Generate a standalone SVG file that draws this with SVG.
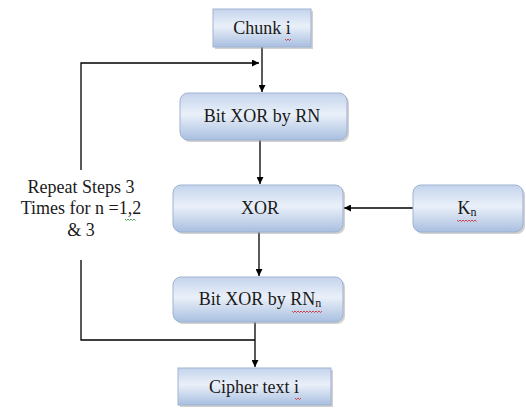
<svg xmlns="http://www.w3.org/2000/svg" width="526" height="408" viewBox="0 0 526 408">
<style>
  text{font-family:"Liberation Serif","Times New Roman",serif;fill:#1a1a1a;}
  .lbl{font-size:18px;text-anchor:middle;}
  .side{font-size:18px;text-anchor:middle;}
  .box{fill:url(#g);stroke:#9fb3d1;stroke-width:1;}
  .shadow{fill:#9a9a9a;opacity:0.45;}
  .ln{fill:none;stroke:#000;stroke-width:1.3;}
  .wr{fill:none;stroke:#d02020;stroke-width:0.8;}
  .wg{fill:none;stroke:#2a8a2a;stroke-width:0.8;}
</style>
<defs>
  <linearGradient id="g" x1="0" y1="0" x2="0" y2="1">
    <stop offset="0" stop-color="#c4d4ec"/>
    <stop offset="0.45" stop-color="#eaf0f9"/>
    <stop offset="1" stop-color="#a8bfe0"/>
  </linearGradient>
  <marker id="ah" viewBox="0 0 10 10" refX="10" refY="5" markerWidth="7" markerHeight="7" orient="auto" markerUnits="userSpaceOnUse">
    <path d="M0,0 L10,5 L0,10 z" fill="#000"/>
  </marker>
</defs>
<rect width="526" height="408" fill="#fff"/>

<g id="connectors">
  <line class="ln" x1="262" y1="47" x2="262" y2="92" marker-end="url(#ah)"/>
  <polyline class="ln" points="81,170 81,63 259,63" marker-end="url(#ah)"/>
  <line class="ln" x1="260" y1="140" x2="260" y2="184" marker-end="url(#ah)"/>
  <line class="ln" x1="413" y1="208" x2="344" y2="208" marker-end="url(#ah)"/>
  <line class="ln" x1="259" y1="232" x2="259" y2="276" marker-end="url(#ah)"/>
  <line class="ln" x1="255" y1="322" x2="255" y2="367" marker-end="url(#ah)"/>
  <polyline class="ln" points="81,260 81,340 255,340"/>
</g>

<g id="chunk">
  <rect class="shadow" x="215" y="11" width="98" height="38"/>
  <rect class="box" x="213" y="9" width="98" height="38"/>
  <text class="lbl" x="262" y="34">Chunk i</text>
  <path class="wr" d="M285,39 l1.5,1.5 l1.5,-1.5 l1.5,1.5 l1.5,-1.5"/>
</g>

<g id="bitxor-rn">
  <rect class="shadow" x="182" y="95" width="167" height="47" rx="8"/>
  <rect class="box" x="180" y="93" width="167" height="47" rx="8"/>
  <text class="lbl" x="262" y="122">Bit XOR by RN</text>
</g>

<g id="xor">
  <rect class="shadow" x="175" y="187" width="170" height="47" rx="8"/>
  <rect class="box" x="173" y="185" width="170" height="47" rx="8"/>
  <text class="lbl" x="260" y="214">XOR</text>
</g>

<g id="kn">
  <rect class="shadow" x="415" y="187" width="110" height="47" rx="8"/>
  <rect class="box" x="413" y="185" width="110" height="47" rx="8"/>
  <text class="lbl" x="467" y="214">K<tspan font-size="12" dy="2">n</tspan></text>
  <path class="wr" d="M457,220 l1.5,1.5 l1.5,-1.5 l1.5,1.5 l1.5,-1.5 l1.5,1.5 l1.5,-1.5 l1.5,1.5 l1.5,-1.5 l1.5,1.5 l1.5,-1.5 l1.5,1.5 l1.5,-1.5 l1.5,1.5"/>
</g>

<g id="bitxor-rnn">
  <rect class="shadow" x="175" y="279" width="170" height="45" rx="8"/>
  <rect class="box" x="173" y="277" width="170" height="45" rx="8"/>
  <text class="lbl" x="260" y="305">Bit XOR by RN<tspan font-size="12" dy="2">n</tspan></text>
  <path class="wr" d="M292,311 l1.5,1.5 l1.5,-1.5 l1.5,1.5 l1.5,-1.5 l1.5,1.5 l1.5,-1.5 l1.5,1.5 l1.5,-1.5 l1.5,1.5 l1.5,-1.5 l1.5,1.5 l1.5,-1.5 l1.5,1.5 l1.5,-1.5 l1.5,1.5 l1.5,-1.5 l1.5,1.5 l1.5,-1.5 l1.5,1.5 l1.5,-1.5"/>
</g>

<g id="cipher">
  <rect class="shadow" x="180" y="370" width="153" height="37"/>
  <rect class="box" x="178" y="368" width="153" height="37"/>
  <text class="lbl" x="254" y="393">Cipher text i</text>
  <path class="wr" d="M295,398 l1.5,1.5 l1.5,-1.5 l1.5,1.5 l1.5,-1.5"/>
</g>

<g id="repeat-label">
  <text class="side" x="81" y="193">Repeat Steps 3</text>
  <text class="side" x="81" y="214">Times for n =1,2</text>
  <text class="side" x="81" y="236">&amp; 3</text>
  <path class="wg" d="M125,219 l1.5,1.5 l1.5,-1.5 l1.5,1.5 l1.5,-1.5 l1.5,1.5 l1.5,-1.5 l1.5,1.5"/>
</g>
</svg>
